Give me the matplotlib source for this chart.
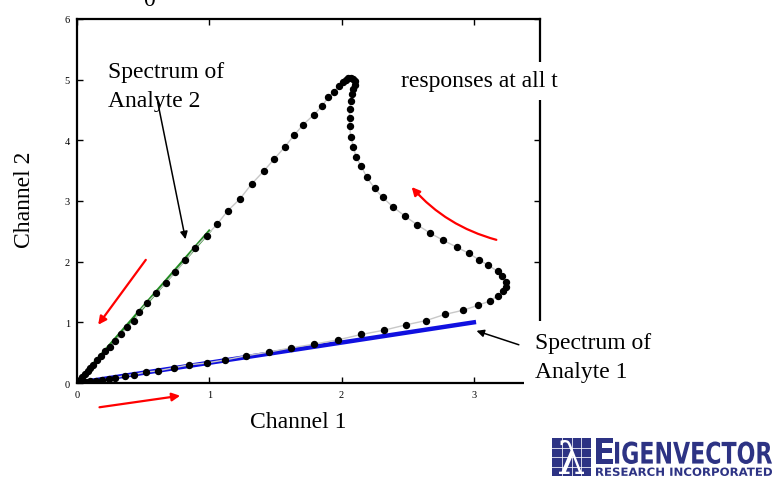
"""Trayectoria de respuestas en dos canales con espectros de analitos."""

import matplotlib.pyplot as plt
from matplotlib.font_manager import FontProperties
from matplotlib.patches import PathPatch, Rectangle
from matplotlib.textpath import TextPath
from matplotlib.transforms import Affine2D

# respuestas (canal 1, canal 2) a lo largo del tiempo
channel1 = [
    0.00, 0.01, 0.02, 0.04, 0.07, 0.10, 0.14, 0.19, 0.24, 0.29, 0.36, 0.43,
    0.52, 0.61, 0.73, 0.85, 0.98, 1.12, 1.28, 1.45, 1.62, 1.79, 1.97, 2.15,
    2.32, 2.49, 2.64, 2.78, 2.92, 3.03, 3.12, 3.18, 3.22, 3.24, 3.24, 3.21,
    3.18, 3.11, 3.04, 2.96, 2.87, 2.77, 2.67, 2.57, 2.48, 2.39, 2.31, 2.25,
    2.19, 2.15, 2.11, 2.09, 2.07, 2.06, 2.06, 2.06, 2.07, 2.08, 2.09, 2.10,
    2.10, 2.09, 2.07, 2.05, 2.03, 2.01, 1.98, 1.94, 1.90, 1.85, 1.79, 1.71,
    1.64, 1.57, 1.49, 1.41, 1.32, 1.23, 1.14, 1.06, 0.98, 0.89, 0.82, 0.74,
    0.67, 0.60, 0.53, 0.47, 0.43, 0.38, 0.33, 0.29, 0.25, 0.21, 0.18, 0.15,
    0.12, 0.10, 0.08, 0.06, 0.04, 0.03, 0.02, 0.01, 0.00,
]
channel2 = [
    0.00, 0.00, 0.00, 0.01, 0.02, 0.03, 0.04, 0.05, 0.07, 0.09, 0.12, 0.14,
    0.18, 0.20, 0.25, 0.30, 0.33, 0.38, 0.45, 0.51, 0.58, 0.64, 0.71, 0.80,
    0.87, 0.96, 1.03, 1.13, 1.20, 1.28, 1.35, 1.44, 1.51, 1.59, 1.67, 1.76,
    1.84, 1.94, 2.03, 2.14, 2.24, 2.35, 2.47, 2.61, 2.75, 2.90, 3.06, 3.21,
    3.39, 3.57, 3.72, 3.89, 4.06, 4.23, 4.37, 4.51, 4.65, 4.76, 4.85, 4.92,
    4.97, 5.01, 5.03, 5.02, 5.00, 4.96, 4.90, 4.80, 4.71, 4.56, 4.42, 4.26,
    4.08, 3.89, 3.69, 3.49, 3.28, 3.03, 2.84, 2.62, 2.43, 2.22, 2.02, 1.83,
    1.65, 1.48, 1.32, 1.17, 1.03, 0.92, 0.80, 0.70, 0.60, 0.52, 0.45, 0.38,
    0.30, 0.25, 0.20, 0.15, 0.10, 0.07, 0.04, 0.02, 0.00,
]

# espectros puros
analyte1_x = [0.0, 3.0]
analyte1_y = [0.0, 1.0]
analyte2_x = [0.0, 1.0]
analyte2_y = [0.0, 2.5]

x_ticks = [0, 1, 2, 3]
y_ticks = [0, 1, 2, 3, 4, 5, 6]

W, H = 773, 481
NAVY = "#2d3384"


def fx(px):
    return px / W


def fy(py):
    return 1 - py / H


def fit_text(fig, s, x0, x1, y_top, y_bot, color, prop):
    """Dibuja s estirado para llenar la caja dada en pixeles."""
    tp = TextPath((0, 0), s, size=1, prop=prop)
    ext = tp.get_extents()
    tr = (Affine2D()
          .translate(-ext.x0, -ext.y0)
          .scale((x1 - x0) / ext.width / W, (y_bot - y_top) / ext.height / H)
          .translate(fx(x0), fy(y_bot))
          + fig.transFigure)
    fig.add_artist(PathPatch(tp, transform=tr, facecolor=color,
                             edgecolor="none"))


def draw_logo(fig) -> None:
    lx0, ly0, lx1, ly1 = 552, 439, 591, 477
    fig.add_artist(Rectangle((fx(lx0), fy(ly1)), (lx1 - lx0) / W,
                             (ly1 - ly0) / H, transform=fig.transFigure,
                             facecolor=NAVY, edgecolor="none"))
    for i in range(1, 4):
        gx = lx0 + i * (lx1 - lx0) / 4
        gy = ly0 + i * (ly1 - ly0) / 4
        fig.add_artist(plt.Line2D([fx(gx), fx(gx)], [fy(ly0), fy(ly1)],
                                  color="white", lw=0.7, alpha=0.8))
        fig.add_artist(plt.Line2D([fx(lx0), fx(lx1)], [fy(gy), fy(gy)],
                                  color="white", lw=0.7, alpha=0.8))
    serif = FontProperties(family="DejaVu Serif")
    bold = FontProperties(family="DejaVu Sans", weight="bold")
    fit_text(fig, "λ", 559, 584, 441, 475, "white", serif)
    fit_text(fig, "E", 596, 613, 439, 465, NAVY, bold)
    fit_text(fig, "IGENVECTOR", 615, 772, 442.5, 465, NAVY, bold)
    fit_text(fig, "RESEARCH INCORPORATED", 596, 772, 468.5, 477, NAVY, bold)


def main() -> None:
    plt.rcParams["font.family"] = ["Liberation Serif", "DejaVu Serif"]
    fig = plt.figure(figsize=(W / 100, H / 100), dpi=100)
    ax = fig.add_axes([fx(77), fy(384), (540 - 77) / W, (384 - 20) / H])

    ax.plot(analyte1_x, analyte1_y, color="#1010e0", lw=3.2, zorder=2)
    ax.plot(analyte2_x, analyte2_y, color="#228b22", lw=2.4, zorder=2)
    ax.plot(channel1, channel2, color="#c8c8c8", lw=1.0, zorder=3)
    ax.plot(channel1, channel2, "o", color="black", ms=4.3, zorder=4)

    ax.set_xlim(0, 3.5)
    ax.set_ylim(0, 6)
    ax.set_xticks(x_ticks)
    ax.set_yticks(y_ticks)
    ax.tick_params(direction="in", top=True, right=True, length=4,
                   width=1, labelsize=7.5, pad=5)
    for sp in ax.spines.values():
        sp.set_linewidth(1.6)

    fig.text(fx(298), fy(423), "Channel 1", fontsize=17,
             ha="center", va="center")
    fig.text(fx(25), fy(200), "Channel 2", fontsize=17,
             ha="center", va="center", rotation=90)
    fig.text(fx(149), fy(6), "0", fontsize=17, ha="center", va="baseline")

    fig.text(fx(108), fy(87), "Spectrum of\nAnalyte 2", fontsize=17,
             ha="left", va="center", linespacing=1.45)
    fig.text(fx(401), fy(82), "responses at all t", fontsize=17,
             ha="left", va="center", zorder=5,
             bbox=dict(facecolor="white", edgecolor="none", pad=6))
    fig.text(fx(535), fy(358), "Spectrum of\nAnalyte 1", fontsize=17,
             ha="left", va="center", linespacing=1.45, zorder=5,
             bbox=dict(facecolor="white", edgecolor="none", pad=8))

    black = dict(arrowstyle="-|>", color="black", lw=1.1,
                 mutation_scale=11, shrinkA=0, shrinkB=0)
    ax.annotate("", xy=(0.82, 2.37), xytext=(0.61, 4.63), arrowprops=black)
    ax.annotate("", xy=(3.02, 0.86), xytext=(3.34, 0.63), arrowprops=black,
                annotation_clip=False)

    red = dict(arrowstyle="-|>", color="red", lw=1.6,
               mutation_scale=12, shrinkA=0, shrinkB=0)
    ax.annotate("", xy=(0.78, -0.21), xytext=(0.17, -0.40), arrowprops=red,
                annotation_clip=False)
    ax.annotate("", xy=(0.16, 0.96), xytext=(0.52, 2.03), arrowprops=red)
    ax.annotate("", xy=(2.53, 3.23), xytext=(3.17, 2.36),
                arrowprops=dict(red, connectionstyle="arc3,rad=-0.15"))

    draw_logo(fig)

    fig.savefig("out.png", dpi=100)
    plt.close(fig)


if __name__ == "__main__":
    main()
